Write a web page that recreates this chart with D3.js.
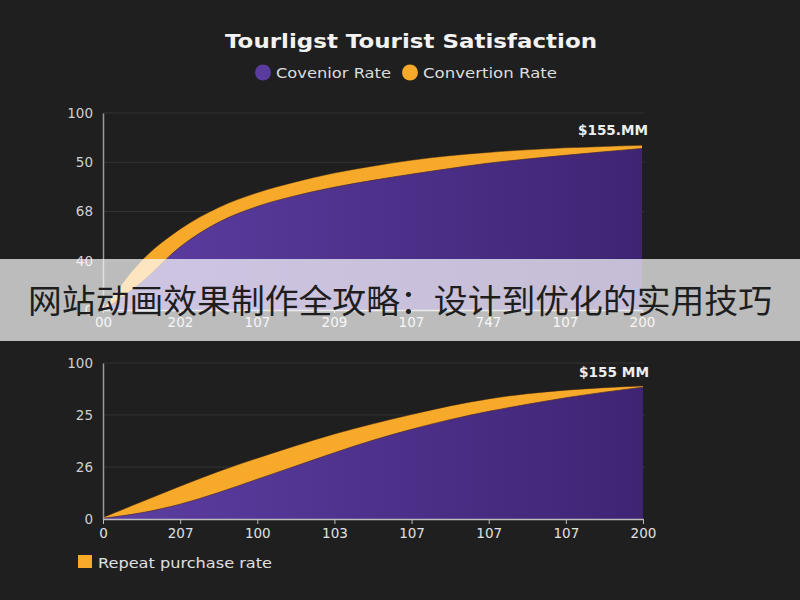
<!DOCTYPE html>
<html>
<head>
<meta charset="utf-8">
<script src="https://cdn.jsdelivr.net/npm/d3@7"></script>
<style>
  html, body { margin: 0; padding: 0; background: #1f1f1f; }
  svg { display: block; }
</style>
</head>
<body>
<svg id="chart" width="800" height="600"></svg>
<script>
// ---------- data ----------
const titleText = "Tourligst Tourist Satisfaction";
const legendNames = ["Covenior Rate", "Convertion Rate"];
const bannerText = "网站动画效果制作全攻略：设计到优化的实用技巧";
const bottomLegend = "Repeat purchase rate";
const valueLabel1 = "$155.MM";
const valueLabel2 = "$155 MM";

const xSteps = [0, 0.5, 1, 1.5, 2, 2.5, 3, 3.5, 4, 4.5, 5, 5.5, 6, 6.5, 7];

const topXTicks = [0, 1, 2, 3, 4, 5, 6, 7];
const topXLabels = ["00", "202", "107", "209", "107", "747", "107", "200"];
const topYTicks = [0, 25, 50, 75, 100];
const topYLabels = ["0", "40", "68", "50", "100"];
const topConvertion = [0, 25, 41, 52, 59.5, 65, 69.5, 73, 76, 78.3, 80, 81.3, 82.3, 83, 83.6];
const topCovenior   = [0, 14, 32, 44.5, 52.5, 58, 62.3, 65.8, 68.9, 71.8, 74.5, 76.6, 78.5, 80.3, 82];

const botXTicks = [0, 1, 2, 3, 4, 5, 6, 7];
const botXLabels = ["0", "207", "100", "103", "107", "107", "107", "200"];
const botYTicks = [0, 33.3, 66.7, 100];
const botYLabels = ["0", "26", "25", "100"];
const botConvertion = [1, 11, 21, 30.5, 39, 47, 54.5, 61, 67, 72.5, 77, 80.3, 82.6, 84.2, 85.3];
const botCovenior   = [0.5, 4, 9.5, 17, 25.5, 34, 42.5, 50.5, 57.5, 63.7, 69, 73.5, 77.7, 81.3, 84.5];

// ---------- drawing ----------
const svg = d3.select("#chart");
const W = 800, H = 600;
const FONT = "'DejaVu Sans', 'Liberation Sans', Arial, sans-serif";
const purple = "#5a3c9e", orange = "#f7a92a";

svg.append("rect").attr("width", W).attr("height", H).attr("fill", "#1f1f1f");

const defs = svg.append("defs");
const grad = defs.append("linearGradient").attr("id", "pgrad")
  .attr("x1", "0%").attr("x2", "100%").attr("y1", "0%").attr("y2", "0%");
grad.append("stop").attr("offset", "0%").attr("stop-color", "#5d3ea3");
grad.append("stop").attr("offset", "100%").attr("stop-color", "#3f2474");

// title
svg.append("text").attr("x", 411).attr("y", 48).attr("text-anchor", "middle")
  .attr("font-family", FONT).attr("font-weight", "bold").attr("font-size", 20)
  .attr("textLength", 372).attr("lengthAdjust", "spacingAndGlyphs")
  .attr("fill", "#f2f2f2").text(titleText);

// legend
const legColors = [purple, orange];
const legX = [263, 410];
const legW = [115, 134];
legendNames.forEach((n, i) => {
  svg.append("circle").attr("cx", legX[i]).attr("cy", 72.5).attr("r", 8).attr("fill", legColors[i]);
  svg.append("text").attr("x", legX[i] + 13).attr("y", 77.5)
    .attr("font-family", FONT).attr("font-size", 14.5)
    .attr("textLength", legW[i]).attr("lengthAdjust", "spacingAndGlyphs")
    .attr("fill", "#dddddd").text(n);
});

function drawPanel(cfg) {
  const x = d3.scaleLinear().domain([0, 7]).range([cfg.x0, cfg.x1]);
  const y = d3.scaleLinear().domain([0, 100]).range([cfg.y0, cfg.y1]);
  const g = svg.append("g");

  // gridlines
  g.selectAll(".grid").data(cfg.yTicks.filter(t => t > 0)).enter().append("line")
    .attr("x1", cfg.x0).attr("x2", cfg.x1 + 2)
    .attr("y1", d => y(d)).attr("y2", d => y(d))
    .attr("stroke", "#333333").attr("stroke-width", 1);

  const data = xSteps.map((s, i) => ({ x: s, a: cfg.orange[i], b: cfg.purple[i] }));
  const areaA = d3.area().x(d => x(d.x)).y0(y(0)).y1(d => y(d.a)).curve(d3.curveMonotoneX);
  const areaB = d3.area().x(d => x(d.x)).y0(y(0)).y1(d => y(d.b)).curve(d3.curveMonotoneX);
  const lineB = d3.line().x(d => x(d.x)).y(d => y(d.b)).curve(d3.curveMonotoneX);
  const lineA = d3.line().x(d => x(d.x)).y(d => y(d.a)).curve(d3.curveMonotoneX);

  g.append("path").datum(data).attr("d", areaA).attr("fill", orange);
  g.append("path").datum(data).attr("d", lineA).attr("fill", "none")
    .attr("stroke", "#3a2410").attr("stroke-width", 0.8).attr("stroke-opacity", 0.6);
  g.append("path").datum(data).attr("d", areaB).attr("fill", "url(#pgrad)");
  g.append("path").datum(data).attr("d", lineB).attr("fill", "none")
    .attr("stroke", "#4a2a30").attr("stroke-width", 1).attr("stroke-opacity", 0.7);

  // y axis
  const yAxis = d3.axisLeft(y).tickValues(cfg.yTicks).tickSize(0).tickPadding(10)
    .tickFormat((d, i) => cfg.yLabels[i]);
  const ya = g.append("g").attr("transform", `translate(${cfg.x0},0)`).call(yAxis);
  ya.select(".domain").attr("stroke", "#9a9a9a").attr("stroke-width", 1.5);
  ya.selectAll("text").attr("font-family", FONT).attr("font-size", 13.5).attr("fill", "#d0d0d0");

  // x axis
  const xAxis = d3.axisBottom(x).tickValues(cfg.xTicks).tickSize(cfg.tick).tickSizeOuter(0).tickPadding(4)
    .tickFormat((d, i) => cfg.xLabels[i]);
  const xa = g.append("g").attr("transform", `translate(0,${cfg.y0})`).call(xAxis);
  xa.select(".domain").attr("stroke", "#bdbdbd").attr("stroke-width", 1.5);
  xa.selectAll(".tick line").attr("stroke", "#bdbdbd");
  xa.selectAll("text").attr("font-family", FONT).attr("font-size", 13.5).attr("fill", "#e0e0e0");

  // value label
  svg.append("text").attr("x", cfg.x1 + 6).attr("y", cfg.labelY).attr("text-anchor", "end")
    .attr("font-family", FONT).attr("font-weight", "bold").attr("font-size", 13.5)
    .attr("textLength", 70).attr("lengthAdjust", "spacingAndGlyphs")
    .attr("fill", "#eeeeee").text(cfg.label);
}

drawPanel({ x0: 103, x1: 642, y0: 310, y1: 113, xTicks: topXTicks, xLabels: topXLabels,
  yTicks: topYTicks, yLabels: topYLabels, orange: topConvertion, purple: topCovenior,
  tick: 3, label: valueLabel1, labelY: 135 });

drawPanel({ x0: 103, x1: 643, y0: 519, y1: 363, xTicks: botXTicks, xLabels: botXLabels,
  yTicks: botYTicks, yLabels: botYLabels, orange: botConvertion, purple: botCovenior,
  tick: 5, label: valueLabel2, labelY: 377 });

// bottom legend
svg.append("rect").attr("x", 78).attr("y", 555).attr("width", 14).attr("height", 13).attr("fill", orange);
svg.append("text").attr("x", 98).attr("y", 567.5).attr("font-family", FONT).attr("font-size", 14.5)
  .attr("textLength", 174).attr("lengthAdjust", "spacingAndGlyphs")
  .attr("fill", "#e0e0e0").text(bottomLegend);

// banner overlay
svg.append("rect").attr("x", 0).attr("y", 259).attr("width", W).attr("height", 82)
  .attr("fill", "#ffffff").attr("fill-opacity", 0.7);
svg.append("text").attr("x", 400).attr("y", 313).attr("text-anchor", "middle")
  .attr("font-family", "'Noto Sans CJK SC', sans-serif").attr("font-size", 33)
  .attr("textLength", 744).attr("lengthAdjust", "spacingAndGlyphs")
  .attr("fill", "#1e1e1e").text(bannerText);
</script>
</body>
</html>
